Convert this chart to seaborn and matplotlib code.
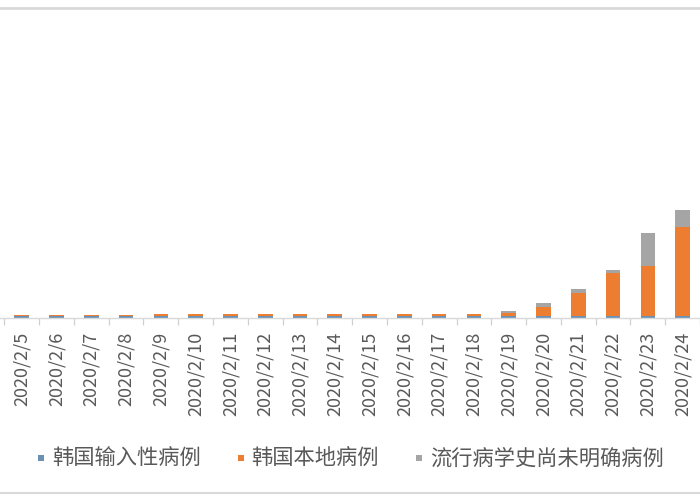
import matplotlib
matplotlib.use("Agg")
import matplotlib.pyplot as plt
from matplotlib.lines import Line2D
import seaborn as sns
import pandas as pd
import numpy as np

dates = ["2020/2/5", "2020/2/6", "2020/2/7", "2020/2/8", "2020/2/9", "2020/2/10",
         "2020/2/11", "2020/2/12", "2020/2/13", "2020/2/14", "2020/2/15", "2020/2/16",
         "2020/2/17", "2020/2/18", "2020/2/19", "2020/2/20", "2020/2/21", "2020/2/22",
         "2020/2/23", "2020/2/24"]
imported = [12, 13, 13, 13, 14, 14, 15, 15, 15, 15, 15, 15, 15, 15, 15, 15, 15, 15, 15, 15]
local = [7, 10, 11, 11, 13, 13, 13, 13, 13, 13, 13, 14, 15, 16, 22, 60, 161, 304, 353, 628]
unknown = [0, 0, 0, 0, 0, 0, 0, 0, 0, 0, 0, 0, 0, 0, 14, 29, 28, 21, 233, 120]
series_names = ["韩国输入性病例", "韩国本地病例", "流行病学史尚未明确病例"]
colors = ["#6A90B4", "#ED7D31", "#A5A5A5"]

sns.set_theme(style="white")
plt.rcParams["font.family"] = ["Noto Sans CJK SC", "DejaVu Sans"]

df = pd.DataFrame({"date": dates, "imported": imported, "local": local, "unknown": unknown})
df["lvl_local"] = df["imported"] + df["local"]
df["lvl_total"] = df["lvl_local"] + df["unknown"]

fig = plt.figure(figsize=(7, 5), dpi=100)
ax = fig.add_axes([0, 1 - 318 / 500, 1, (318 - 20) / 500])

bw = 0.42
kw = dict(saturation=1, width=bw, ax=ax, order=dates, linewidth=0, edgecolor="none")
sns.barplot(data=df, x="date", y="lvl_total", color=colors[2], **kw)
sns.barplot(data=df, x="date", y="lvl_local", color=colors[1], **kw)
sns.barplot(data=df, x="date", y="imported", color=colors[0], **kw)

ax.set_xlim(-0.625, 19.26)
ax.set_ylim(0, 298 * 7.06)
ax.set_xlabel("")
ax.set_ylabel("")
ax.set_yticks([])
for s in ["top", "left", "right"]:
    ax.spines[s].set_visible(False)
ax.spines["bottom"].set_color("#D9D9D9")
ax.spines["bottom"].set_linewidth(1)

ax.set_xticks(range(len(dates)))
ax.set_xticklabels(dates, rotation=90, fontsize=13, color="#595959")
ax.tick_params(axis="x", which="major", length=0, pad=10)
ax.set_xticks(np.arange(-0.5, len(dates) + 0.5, 1), minor=True)
ax.tick_params(axis="x", which="minor", length=5, width=0.9, color="#D0D0D0", direction="out", bottom=True)

handles = [Line2D([], [], marker="s", linestyle="none", markersize=5, color=c,
                  markeredgewidth=0) for c in colors]
leg = fig.legend(handles, series_names, loc="center left",
                 bbox_to_anchor=(36 / 700, 1 - 459 / 500), ncol=3, frameon=False,
                 fontsize=15.3, handlelength=0.45, handletextpad=0.3,
                 columnspacing=1.65, borderpad=0, borderaxespad=0)
for t in leg.get_texts():
    t.set_color("#595959")

fig.add_artist(Line2D([0, 1], [1 - 7.5 / 500] * 2, transform=fig.transFigure, color="#D9D9D9", lw=2))
fig.add_artist(Line2D([0, 1], [1 - 493 / 500] * 2, transform=fig.transFigure, color="#D9D9D9", lw=1.5))

fig.savefig("out.png", dpi=100)
